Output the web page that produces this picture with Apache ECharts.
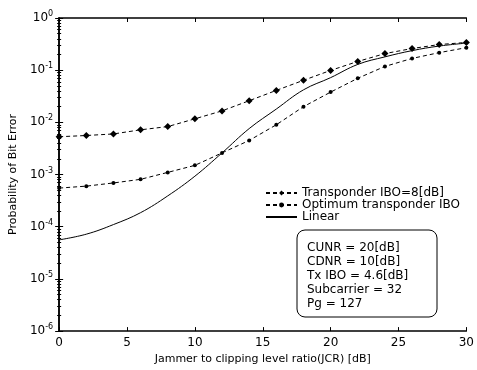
<!DOCTYPE html>
<html lang="en">
<head>
  <meta charset="UTF-8">
  <title>BER vs JCR</title>
  <script src="https://cdn.jsdelivr.net/npm/echarts@6/dist/echarts.min.js"></script>
  <style>
    html, body { margin: 0; padding: 0; background: #fff; }
    #chart { width: 477px; height: 370px; }
  </style>
</head>
<body>
  <div id="chart"></div>
  <script>
    // data
    const jcr = [0, 2, 4, 6, 8, 10, 12, 14, 16, 18, 20, 22, 24, 26, 28, 30];
    const transponderIbo8 = [5.3e-3, 5.6e-3, 6.0e-3, 7.2e-3, 8.3e-3, 1.17e-2, 1.66e-2, 2.6e-2, 4.1e-2, 6.4e-2, 0.099, 0.147, 0.208, 0.26, 0.31, 0.34];
    const optimumIbo = [5.5e-4, 6.0e-4, 6.9e-4, 8.1e-4, 1.1e-3, 1.5e-3, 2.6e-3, 4.5e-3, 9.0e-3, 2.0e-2, 3.8e-2, 7.0e-2, 0.118, 0.168, 0.217, 0.27];
    const linear = [5.6e-5, 7.2e-5, 1.1e-4, 1.86e-4, 3.9e-4, 9.3e-4, 2.6e-3, 7.6e-3, 1.8e-2, 4.2e-2, 7.2e-2, 0.129, 0.18, 0.237, 0.29, 0.33];
    const yExponents = [0, -1, -2, -3, -4, -5, -6];
    const paramLines = ['CUNR = 20[dB]', 'CDNR = 10[dB]', 'Tx IBO = 4.6[dB]', 'Subcarrier = 32', 'Pg = 127'];

    const font = 'DejaVu Sans';
    const pairs = (ys) => jcr.map((x, i) => [x, ys[i]]);

    const chart = echarts.init(document.getElementById('chart'), null, { renderer: 'canvas' });

    const option = {
      animation: false,
      backgroundColor: '#fff',
      textStyle: { fontFamily: font, color: '#000' },
      grid: { left: 52, right: 7, top: 18, bottom: 35 },
      legend: {
        left: 260,
        top: 182,
        orient: 'vertical',
        itemWidth: 31,
        itemHeight: 6,
        itemGap: 0,
        textStyle: { fontFamily: font, fontSize: 12, color: '#000' },
        data: [
          { name: 'Transponder IBO=8[dB]' },
          { name: 'Optimum transponder IBO' },
          { name: 'Linear', itemStyle: { opacity: 0 } }
        ]
      },
      xAxis: [{
        type: 'value', min: 0, max: 30, interval: 5,
        name: 'Jammer to clipping level ratio(JCR) [dB]',
        nameLocation: 'middle', nameGap: 18,
        nameTextStyle: { fontFamily: font, fontSize: 11, color: '#000' },
        axisLine: { lineStyle: { color: '#000', width: 1.5 } },
        axisTick: { inside: true, length: 4, lineStyle: { color: '#000' } },
        axisLabel: { fontFamily: font, fontSize: 12, color: '#000', margin: 6 },
        splitLine: { show: false }
      }, {
        type: 'value', min: 0, max: 30, interval: 5, position: 'top',
        axisLine: { lineStyle: { color: '#000', width: 1.5 } },
        axisTick: { inside: true, length: 4, lineStyle: { color: '#000' } },
        axisLabel: { show: false },
        splitLine: { show: false }
      }],
      yAxis: [{
        type: 'log', logBase: 10, min: 1e-6, max: 1,
        name: 'Probability of Bit Error',
        nameLocation: 'middle', nameGap: 36,
        nameTextStyle: { fontFamily: font, fontSize: 11, color: '#000' },
        axisLine: { lineStyle: { color: '#000', width: 1.5 } },
        axisTick: { inside: true, length: 4, lineStyle: { color: '#000' } },
        minorTick: { show: true, splitNumber: 9, length: 2, lineStyle: { color: '#000' } },
        axisLabel: {
          margin: 6,
          formatter: (v) => {
            const e = yExponents.find((k) => Math.abs(Math.log10(v) - k) < 0.01);
            return '{b|10}{s|' + (e === undefined ? Math.round(Math.log10(v)) : e) + '}';
          },
          rich: {
            b: { fontFamily: font, fontSize: 12, color: '#000' },
            s: { fontFamily: font, fontSize: 8, color: '#000', verticalAlign: 'top', padding: [0, 0, 8, 0] }
          }
        },
        splitLine: { show: false }
      }, {
        type: 'log', logBase: 10, min: 1e-6, max: 1, position: 'right',
        axisLine: { lineStyle: { color: '#000', width: 1.5 } },
        axisTick: { inside: true, length: 4, lineStyle: { color: '#000' } },
        minorTick: { show: true, splitNumber: 9, length: 2, lineStyle: { color: '#000' } },
        axisLabel: { show: false },
        splitLine: { show: false }
      }],
      series: [{
        name: 'Transponder IBO=8[dB]',
        type: 'line',
        data: pairs(transponderIbo8),
        symbol: 'diamond', symbolSize: 7,
        itemStyle: { color: '#000' },
        lineStyle: { color: '#000', width: 1, type: [4, 3] }
      }, {
        name: 'Optimum transponder IBO',
        type: 'line',
        data: pairs(optimumIbo),
        symbol: 'circle', symbolSize: 4,
        itemStyle: { color: '#000' },
        lineStyle: { color: '#000', width: 1, type: [4, 3] }
      }, {
        name: 'Linear',
        type: 'line',
        data: pairs(linear),
        smooth: 0.4,
        showSymbol: false, symbol: 'none',
        itemStyle: { color: '#000' },
        lineStyle: { color: '#000', width: 1 }
      }],
      graphic: [{
        type: 'rect',
        shape: { x: 297, y: 230, width: 140, height: 87, r: 8 },
        style: { fill: '#fff', stroke: '#000', lineWidth: 1 },
        z: 10
      }, {
        type: 'text',
        x: 307, y: 241,
        style: {
          text: paramLines.join('\n'),
          fontFamily: font, fontSize: 12, lineHeight: 14, fill: '#000'
        },
        z: 11
      }]
    };

    option && chart.setOption(option);
  </script>
</body>
</html>
